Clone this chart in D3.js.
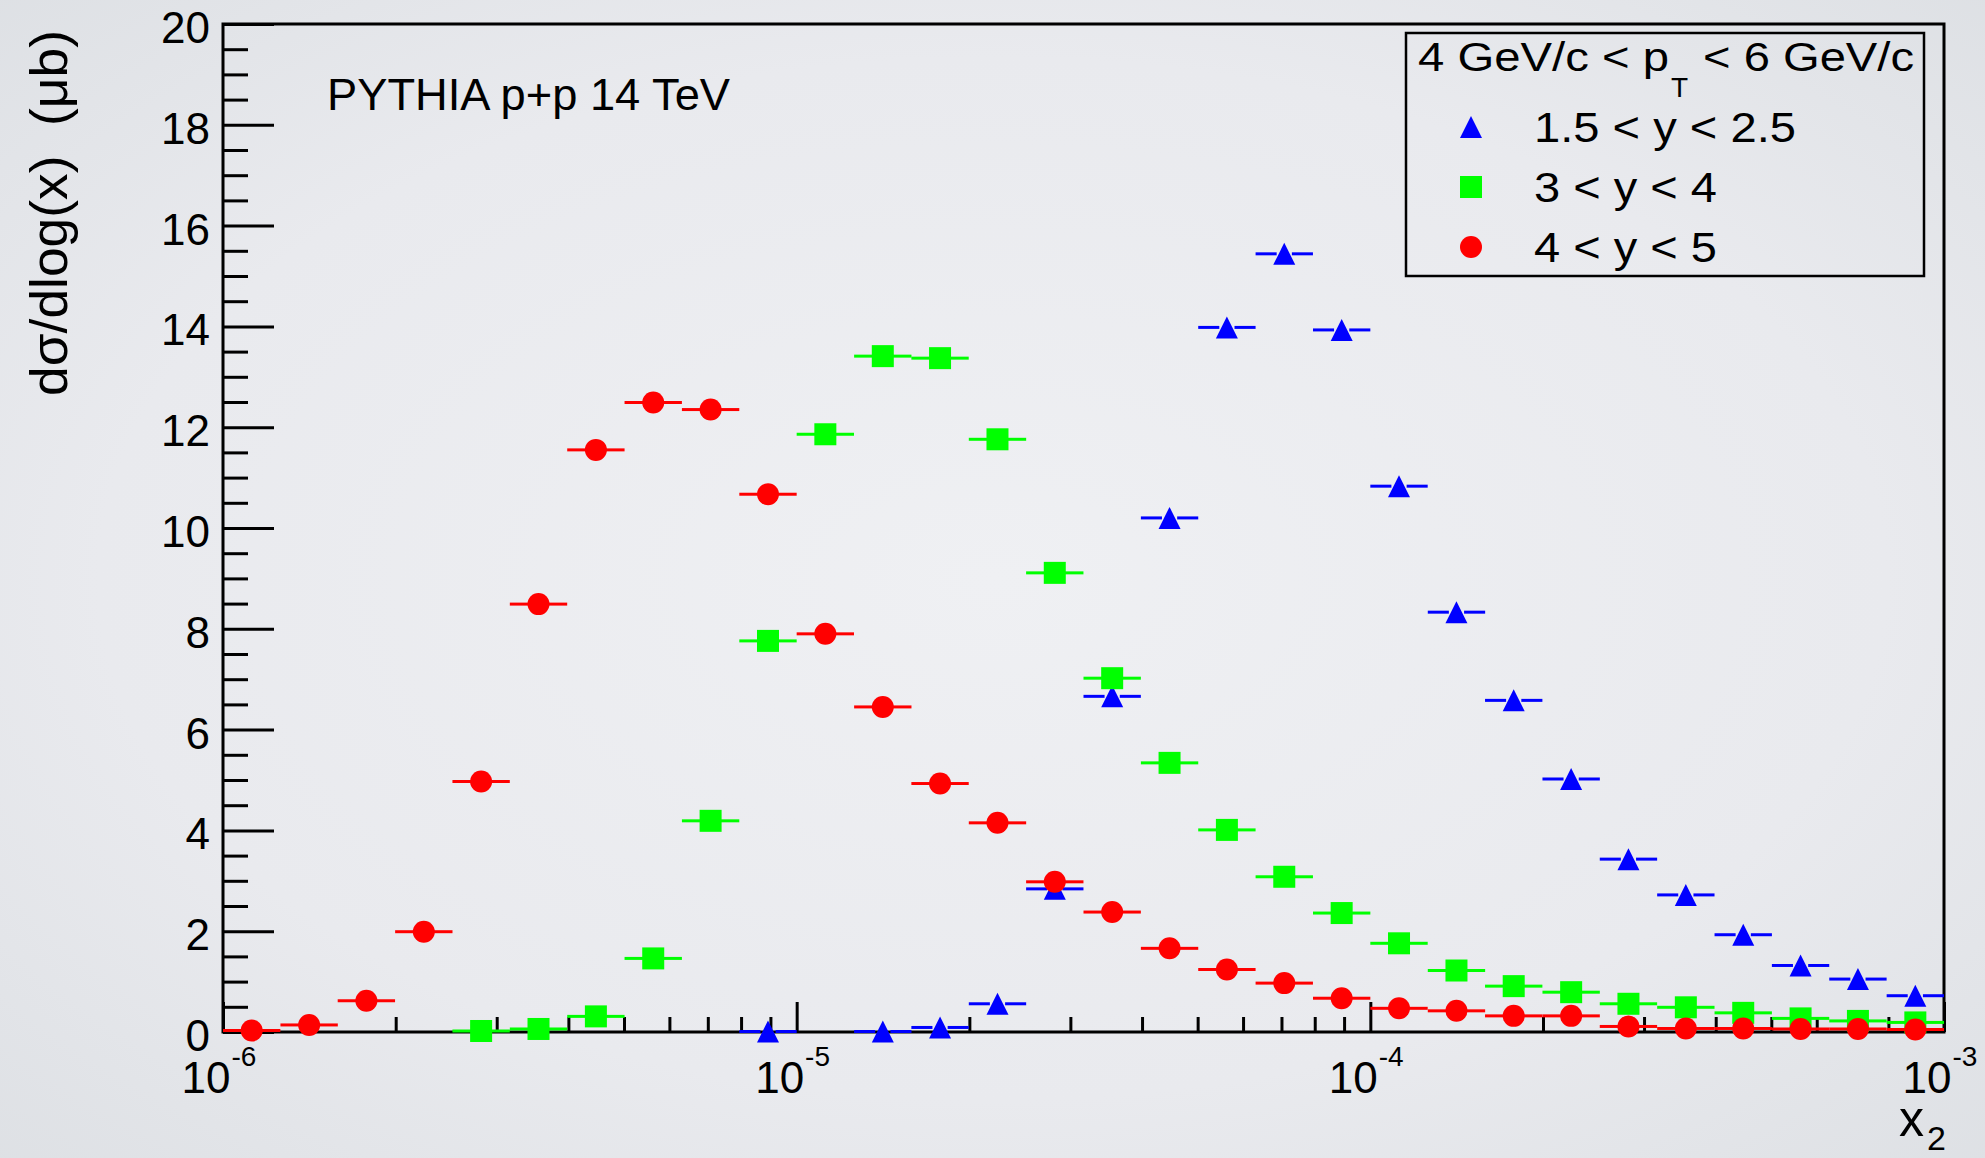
<!DOCTYPE html>
<html>
<head>
<meta charset="utf-8">
<script src="https://cdn.jsdelivr.net/npm/d3@7"></script>
<style>
    body { margin: 0; background: #e6e8eb; overflow: hidden; }
    svg { display: block; }
    text { font-family: "Liberation Sans", Arial, Helvetica, sans-serif; fill: #000; }
</style>
</head>
<body>
<div id="chart"></div>
<script>

// x2 bin centres (30 equal bins in log10 from 1e-6 to 1e-3)
const x2Centers = [
    1.122e-6, 1.413e-6, 1.778e-6, 2.239e-6, 2.818e-6, 3.548e-6, 4.467e-6, 5.623e-6, 7.079e-6, 8.913e-6,
    1.122e-5, 1.413e-5, 1.778e-5, 2.239e-5, 2.818e-5, 3.548e-5, 4.467e-5, 5.623e-5, 7.079e-5, 8.913e-5,
    1.122e-4, 1.413e-4, 1.778e-4, 2.239e-4, 2.818e-4, 3.548e-4, 4.467e-4, 5.623e-4, 7.079e-4, 8.913e-4
];

// 1.5 < y < 2.5
const blueValues = [
    null, null, null, null, null, null, null, null, null, 0.01,
    null, 0.01, 0.09, 0.56, 2.84, 6.66, 10.2, 13.98, 15.44, 13.93,
    10.83, 8.33, 6.58, 5.02, 3.43, 2.72, 1.93, 1.32, 1.05, 0.72
];

// 3 < y < 4
const greenValues = [
    null, null, null, null, 0.02, 0.06, 0.31, 1.46, 4.19, 7.76,
    11.86, 13.41, 13.37, 11.76, 9.11, 7.02, 5.34, 4.01, 3.08, 2.36,
    1.76, 1.22, 0.91, 0.79, 0.56, 0.49, 0.38, 0.27, 0.22, 0.19
];

// 4 < y < 5
const redValues = [
    0.03, 0.14, 0.62, 1.99, 4.97, 8.49, 11.55, 12.49, 12.35, 10.67,
    7.9, 6.45, 4.93, 4.15, 2.98, 2.38, 1.66, 1.24, 0.97, 0.67,
    0.47, 0.42, 0.32, 0.32, 0.11, 0.07, 0.07, 0.06, 0.06, 0.05
];

const seriesNames = ["1.5 < y < 2.5", "3 < y < 4", "4 < y < 5"];
const seriesColors = ["#0000ff", "#00ff00", "#ff0000"];
const seriesShapes = ["triangle", "square", "circle"];
const yTicks = [0, 2, 4, 6, 8, 10, 12, 14, 16, 18, 20];
const xDecades = [1e-6, 1e-5, 1e-4, 1e-3];

const W = 1985, H = 1158;
const margin = { left: 223, right: 41, top: 24, bottom: 126 };
const binHalf = Math.pow(10, 0.05);   // half a bin in log space

const svg = d3.select("#chart").append("svg")
    .attr("width", W)
    .attr("height", H);

// background with soft vignette
const grad = svg.append("defs").append("radialGradient")
    .attr("id", "bg").attr("cx", "50%").attr("cy", "50%").attr("r", "75%");
grad.append("stop").attr("offset", "0%").attr("stop-color", "#eff0f3");
grad.append("stop").attr("offset", "60%").attr("stop-color", "#e9eaee");
grad.append("stop").attr("offset", "100%").attr("stop-color", "#dcdfe3");
svg.append("rect").attr("width", W).attr("height", H).attr("fill", "url(#bg)");

const x = d3.scaleLog()
    .domain([1e-6, 1e-3])
    .range([margin.left, W - margin.right]);

const y = d3.scaleLinear()
    .domain([0, 20])
    .range([H - margin.bottom, margin.top]);

// y axis: majors every 2, minors every 0.5
const yMinor = d3.range(0, 20.01, 0.5).filter(v => v % 2 !== 0);
svg.append("g")
    .attr("class", "y minor")
    .attr("transform", `translate(${margin.left},0)`)
    .call(d3.axisLeft(y).tickValues(yMinor).tickSizeInner(-25).tickSizeOuter(0).tickFormat(""));

svg.append("g")
    .attr("class", "y major")
    .attr("transform", `translate(${margin.left},0)`)
    .call(d3.axisLeft(y).tickValues(yTicks).tickSizeInner(-51).tickSizeOuter(0).tickPadding(13).tickFormat(d3.format("d")))
    .selectAll("text")
    .attr("dy", "0.42em")
    .style("font-size", "44px");

// x axis: decades + 2..9 minors
const xMinor = x.ticks().filter(v => !xDecades.some(d => Math.abs(v - d) / d < 1e-6));
svg.append("g")
    .attr("class", "x minor")
    .attr("transform", `translate(0,${y(0)})`)
    .call(d3.axisBottom(x).tickValues(xMinor).tickSizeInner(-15).tickSizeOuter(0).tickFormat(""));

const xMajor = svg.append("g")
    .attr("class", "x major")
    .attr("transform", `translate(0,${y(0)})`)
    .call(d3.axisBottom(x).tickValues(xDecades).tickSizeInner(-30).tickSizeOuter(0).tickFormat(""));

// "10" ends just right of the tick, exponent raised after it
xMajor.selectAll(".tick").each(function (d) {
    const t = d3.select(this).append("text")
        .attr("x", -42).attr("y", 61)
        .attr("text-anchor", "start")
        .style("font-size", "44px");
    t.append("tspan").text("10");
    t.append("tspan")
        .attr("dx", 1).attr("dy", -27)
        .style("font-size", "28px")
        .text(String(Math.round(Math.log10(d))));
});

svg.selectAll(".domain").remove();
svg.selectAll(".tick line").attr("stroke", "#000").attr("stroke-width", 3);

// frame
svg.append("rect")
    .attr("x", margin.left).attr("y", margin.top)
    .attr("width", W - margin.right - margin.left)
    .attr("height", y(0) - margin.top)
    .attr("fill", "none").attr("stroke", "#000").attr("stroke-width", 3);

// markers
function marker(sel, shape, color, size) {
    const s = size / 2;
    if (shape === "circle") {
        sel.append("circle").attr("r", s).attr("fill", color);
    } else if (shape === "square") {
        sel.append("rect").attr("x", -s).attr("y", -s).attr("width", size).attr("height", size).attr("fill", color);
    } else {
        sel.append("path").attr("d", `M0,${-s}L${s},${s}L${-s},${s}Z`).attr("fill", color);
    }
}

const allSeries = [blueValues, greenValues, redValues];
const gap = 7.6;

allSeries.forEach((vals, k) => {
    const pts = vals.map((v, i) => ({ xc: x2Centers[i], v: v })).filter(p => p.v !== null);
    const g = svg.append("g").attr("class", "series s" + k);

    // horizontal bin-width bars, with a small gap round the marker
    g.selectAll("line.left").data(pts).enter().append("line")
        .attr("x1", p => x(p.xc / binHalf)).attr("x2", p => x(p.xc) - gap)
        .attr("y1", p => y(p.v)).attr("y2", p => y(p.v))
        .attr("stroke", seriesColors[k]).attr("stroke-width", 3);
    g.selectAll("line.right").data(pts).enter().append("line")
        .attr("x1", p => x(p.xc) + gap).attr("x2", p => x(p.xc * binHalf))
        .attr("y1", p => y(p.v)).attr("y2", p => y(p.v))
        .attr("stroke", seriesColors[k]).attr("stroke-width", 3);

    g.selectAll("g.pt").data(pts).enter().append("g")
        .attr("transform", p => `translate(${x(p.xc)},${y(p.v)})`)
        .each(function () { marker(d3.select(this), seriesShapes[k], seriesColors[k], 22); });
});

// annotation
svg.append("text")
    .attr("x", 327).attr("y", 110)
    .attr("textLength", 403).attr("lengthAdjust", "spacingAndGlyphs")
    .style("font-size", "44px")
    .text("PYTHIA p+p 14 TeV");

// axis titles
svg.append("text")
    .attr("transform", "translate(67,213) rotate(-90)")
    .attr("text-anchor", "middle")
    .attr("textLength", 366).attr("lengthAdjust", "spacingAndGlyphs")
    .style("font-size", "52px")
    .text("dσ/dlog(x)\u00a0 (μb)");

svg.append("text").attr("x", 1899).attr("y", 1136).style("font-size", "50px").text("x");
svg.append("text").attr("x", 1927).attr("y", 1150).style("font-size", "34px").text("2");

// legend
const legend = svg.append("g").attr("class", "legend");
legend.append("rect")
    .attr("x", 1406).attr("y", 33).attr("width", 518).attr("height", 243)
    .attr("fill", "none").attr("stroke", "#000").attr("stroke-width", 2.5);

legend.append("text").attr("x", 1418).attr("y", 71)
    .attr("textLength", 251).attr("lengthAdjust", "spacingAndGlyphs")
    .style("font-size", "40px").text("4 GeV/c < p");
legend.append("text").attr("x", 1671).attr("y", 97)
    .style("font-size", "28px").text("T");
legend.append("text").attr("x", 1703).attr("y", 71)
    .attr("textLength", 211).attr("lengthAdjust", "spacingAndGlyphs")
    .style("font-size", "40px").text("< 6 GeV/c");

const legendLens = [262, 183, 183];
seriesNames.forEach((name, k) => {
    const cy = 127 + k * 60;
    const row = legend.append("g").attr("transform", `translate(1471,${cy})`);
    marker(row, seriesShapes[k], seriesColors[k], 22);
    legend.append("text")
        .attr("x", 1534).attr("y", cy + 15)
        .attr("textLength", legendLens[k]).attr("lengthAdjust", "spacingAndGlyphs")
        .style("font-size", "42px")
        .text(name);
});

</script>
</body>
</html>
